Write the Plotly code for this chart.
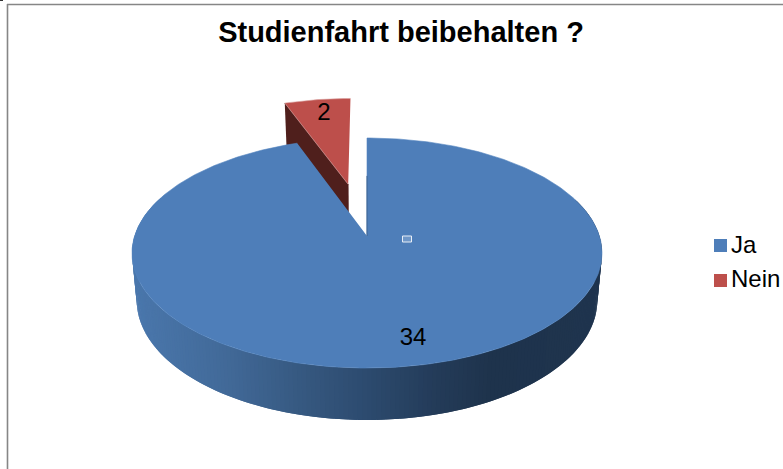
import numpy as np
import plotly.graph_objects as go

categories = ["Ja", "Nein"]
values = [34, 2]
top_colors = ["#4e7eb9", "#bd4f4b"]
title_text = "Studienfahrt beibehalten ?"

W, H = 783, 469
CX, CY = 367, 236
P = 0.148
A, B = 232.4, 112.5
SHRINK, DEPTH = 0.98, 46.5
PULL = 0.5


def project(u, v, lower=False):
    u, v = np.asarray(u, float), np.asarray(v, float)
    k = 1 + P * v
    s = SHRINK if lower else 1.0
    return CX + s * A * u / k, CY - s * B * v / k + (DEPTH / k if lower else 0)


def arc(a0, a1, n=160):
    t = np.radians(np.linspace(a0, a1, n))
    return np.sin(t), np.cos(t)


def mix(stops, x):
    xs = [s[0] for s in stops]
    return "#%02x%02x%02x" % tuple(
        int(round(np.interp(x, xs, [s[1][i] for s in stops]))) for i in range(3)
    )


side_stops = [(132, (74, 119, 172)), (220, (66, 106, 153)), (300, (54, 88, 128)),
              (367, (44, 74, 110)), (430, (36, 60, 90)), (490, (30, 51, 76)),
              (602, (31, 52, 78))]

total = sum(values)
sweep_ja = 360 * values[0] / total
sweep_nein = 360 * values[1] / total
mid = sweep_ja + sweep_nein / 2
du, dv = PULL * np.sin(np.radians(mid)), PULL * np.cos(np.radians(mid))

fig = go.Figure()


def poly(x, y, color, lw=0.6, lc=None):
    fig.add_trace(go.Scatter(x=list(x), y=list(y), mode="lines", fill="toself", fillcolor=color,
                             line=dict(color=lc or color, width=lw), hoverinfo="skip", showlegend=False))


# pulled-out slice: wall, then top face
u0, v0 = arc(sweep_ja, 360)
tx, ty = project(u0 + du, v0 + dv)
ax, ay = project([du], [dv])
bax, bay = project([du], [dv], lower=True)
ol_x, ol_y = project(u0[:1] + du, v0[:1] + dv)
bl_x, bl_y = project(u0[:1] + du, v0[:1] + dv, lower=True)
poly([ol_x[0], ax[0], bax[0], bl_x[0]], [ol_y[0], ay[0], bay[0], bl_y[0]], "#4f1f1c")
poly(np.r_[ax, tx], np.r_[ay, ty], top_colors[1], lc="#d9a09e")

# big slice: side wall facets, each overlapped by the next one drawn
edges = np.linspace(70, 290, 221)
step = edges[1] - edges[0]
for a0 in edges[:-1]:
    u, v = arc(a0, a0 + 2 * step, 4)
    x1, y1 = project(u, v)
    x2, y2 = project(u, v, lower=True)
    poly(np.r_[x1, x2[::-1]], np.r_[y1, y2[::-1]], mix(side_stops, x1.mean()), lw=0)

# big slice: top face
u1, v1 = arc(0, sweep_ja, 400)
bx, by = project(u1, v1)
poly(np.r_[[CX], bx], np.r_[[CY], by], top_colors[0], lc="#5485bf")
# dark seam on the vertical cut
sx, sy = project([0, 0], [0, 0.58])
fig.add_trace(go.Scatter(x=sx, y=sy, mode="lines", line=dict(color="#3c628f", width=1),
                         hoverinfo="skip", showlegend=False))

# value labels
lx = [413, 324]
ly = [339, 114]
fig.add_trace(go.Scatter(x=lx, y=ly, text=[str(v) for v in values], mode="text",
                         textposition="middle center",
                         textfont=dict(family="Liberation Sans", size=24, color="#000000"),
                         hoverinfo="skip", showlegend=False))

# legend
leg_x = [720.5, 720.5]
leg_y = [245.5, 280.5]
leg_text_y = [246.5, 281]
fig.add_trace(go.Scatter(x=leg_x, y=leg_y, mode="markers",
                         marker=dict(symbol="square", size=13, color=top_colors, line=dict(width=0)),
                         hoverinfo="skip", showlegend=False))
fig.add_trace(go.Scatter(x=[731, 731], y=leg_text_y, text=categories, mode="text",
                         textposition="middle right",
                         textfont=dict(family="Liberation Sans", size=24, color="#000000"),
                         hoverinfo="skip", showlegend=False))

frame = dict(type="line", xref="x", yref="y", line=dict(color="#868686", width=1.6))
fig.update_layout(
    width=W, height=H, autosize=False,
    margin=dict(l=0, r=0, t=0, b=0),
    paper_bgcolor="#ffffff", plot_bgcolor="#ffffff",
    showlegend=False,
    xaxis=dict(range=[0, W], visible=False, fixedrange=True),
    yaxis=dict(range=[H, 0], visible=False, fixedrange=True),
    title=dict(text="<b>" + title_text + "</b>", x=401 / W, xanchor="center", y=1 - 32 / H, yanchor="middle",
               font=dict(family="Liberation Sans", size=29, color="#000000")),
    shapes=[
        dict(frame, x0=7, y0=4.5, x1=W, y1=4.5),
        dict(frame, x0=7.5, y0=4, x1=7.5, y1=H),
        dict(type="rect", xref="x", yref="y", x0=402.5, x1=411.5, y0=236, y1=242,
             fillcolor="#6f97c8", line=dict(color="#e8eef6", width=1)),
        dict(type="line", xref="x", yref="y", x0=0, x1=3, y0=0.5, y1=0.5, line=dict(color="#333333", width=1)),
    ],
)
fig.write_html("out.html", config={"displayModeBar": False},
               post_script="document.body.style.margin='0';document.body.style.overflow='hidden';")
